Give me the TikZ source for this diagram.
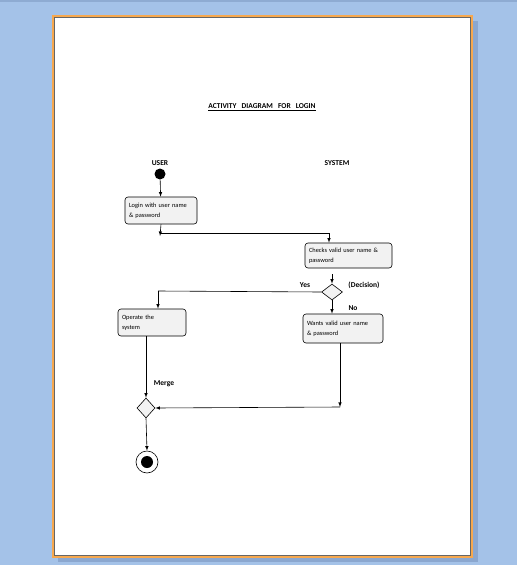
\documentclass[tikz,border=0pt]{standalone}
\usepackage{fontspec}
\setmainfont{Carlito}
\usetikzlibrary{arrows,shapes.geometric}
\definecolor{deskblue}{RGB}{164,194,232}
\definecolor{shadeblue}{RGB}{128,156,196}
\definecolor{pageedge}{RGB}{247,168,78}
\definecolor{boxgray}{RGB}{242,242,242}

\begin{document}
\begin{tikzpicture}[x=1pt,y=-1pt,->,>=latex,semithick,
  every node/.style={font=\fontsize{6.4}{10}\selectfont},
  act/.style={draw,rounded corners=3pt,fill=boxgray,align=left,inner xsep=4pt,inner ysep=0pt},
  choice/.style={draw,diamond,fill=boxgray,inner sep=0pt},
  lbl/.style={font=\fontsize{7.5}{8}\bfseries\selectfont}]
  % page
  \begin{scope}[-]
    \fill[deskblue] (0,0) rectangle (517,565);
    \fill[shadeblue!60!deskblue] (0,0) rectangle (517,2);
    \fill[shadeblue!70!deskblue] (58,21) rectangle (478,562);
    \draw[pageedge,line width=1.6pt,fill=white] (53,16) rectangle (472,557);
    \draw[black!60,line width=0.6pt] (54.3,17.3) rectangle (470.7,555.7);
  \end{scope}
  \node[lbl] (title) at (262,107) {\underline{ACTIVITY\ \ \ DIAGRAM\ \ \ FOR\ \ \ LOGIN}};
  \node[lbl] (user) at (160,163) {USER};
  \node[lbl] (system) at (337,163) {SYSTEM};
  % activities
  \node[circle,fill=black,minimum width=10pt,minimum height=11pt,inner sep=0pt] (start) at (160,174) {};
  \node[act,text width=64pt,minimum height=27pt] (login) at (161,210.5) {Login with user name\\\& password};
  \node[act,text width=79pt,minimum height=25pt] (check) at (348.5,255.5) {Checks valid user name \&\\password};
  \node[choice,minimum width=21pt,minimum height=16pt] (dec) at (332,292) {};
  \node[act,text width=60pt,minimum height=27pt] (op) at (152,322.5) {Operate the\\system};
  \node[act,text width=72pt,minimum height=29pt] (wants) at (343,328.5) {Wants valid user name\\\& password};
  \node[choice,minimum width=18pt,minimum height=20pt] (merge) at (146,408) {};
  \node[circle,draw,minimum size=22pt,inner sep=0pt] (stop) at (147,462) {};
  \node[circle,fill=black,minimum size=12pt,inner sep=0pt] (stopdot) at (stop) {};
  \node[lbl] (yes) at (305,285) {Yes};
  \node[lbl] (decl) at (364,285) {(Decision)};
  \node[lbl] (no) at (353,308) {No};
  \node[lbl] (mergel) at (164,384) {Merge};
  % joins
  \coordinate (j1) at (160,236);
  \coordinate (j2) at (329,233);
  \coordinate (j3) at (158,291);
  \coordinate (j4) at (340,407);
  \draw (start) -- (login);
  \draw (login.south) -- (j1);
  \draw[-] (login.south |- j2) -- (j2);
  \draw (j2) -- (j2 |- check.north);
  \draw ([yshift=-6pt]dec |- check.south) -- (dec.north);
  \draw[-] (dec.west) -- (j3);
  \draw (j3) -- (j3 |- op.north);
  \draw (dec.south) -- (dec |- wants.north);
  \draw (merge |- op.south) -- (merge.north);
  \draw (wants.south -| j4) -- (j4);
  \draw (j4) -- (merge.east);
  \draw (merge.south) -- (stop.north);
\end{tikzpicture}
\end{document}
